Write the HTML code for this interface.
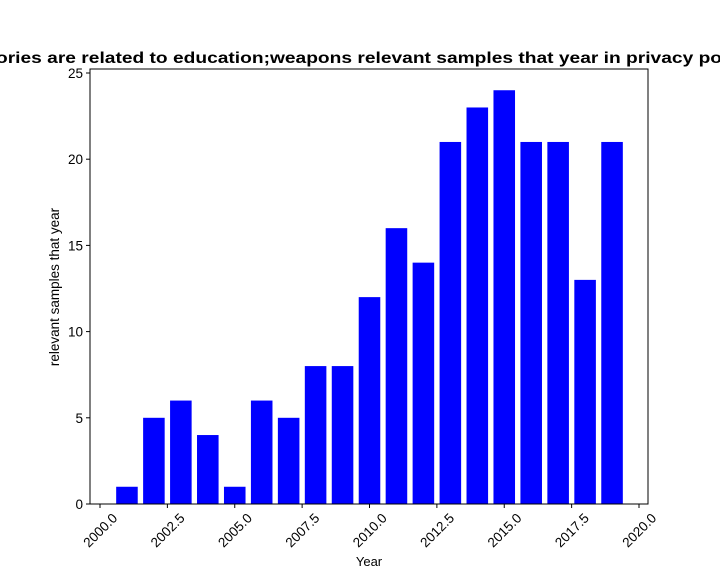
<!DOCTYPE html>
<html><head><meta charset="utf-8"><style>
body{margin:0;background:#fff;}
svg{display:block;font-family:"Liberation Sans",sans-serif;}
</style></head><body>
<svg id="chart" width="720" height="576">
<text x="-4" y="63" font-size="16" font-weight="bold" textLength="726" lengthAdjust="spacingAndGlyphs">ories are related to education;weapons relevant samples that year in privacy po</text>
<g id="bars"></g>
<rect x="90" y="69" width="558" height="435" fill="none" stroke="#000" stroke-width="1"/>
<g id="xt"></g><g id="yt"></g>
<text x="369" y="566" font-size="13" text-anchor="middle">Year</text>
<text transform="translate(59,287) rotate(-90)" font-size="13.5" text-anchor="middle">relevant samples that year</text>
</svg>
<script>
const years=[2001,2002,2003,2004,2005,2006,2007,2008,2009,2010,2011,2012,2013,2014,2015,2016,2017,2018,2019];
const counts=[1,5,6,4,1,6,5,8,8,12,16,14,21,23,24,21,21,13,21];
const xTicks=[2000,2002.5,2005,2007.5,2010,2012.5,2015,2017.5,2020];
const yTicks=[0,5,10,15,20,25];
const NS="http://www.w3.org/2000/svg";
const xs=v=>100+(v-2000)*26.95;
const ys=v=>504-v*17.24;
function mk(t,a,p){const e=document.createElementNS(NS,t);for(const k in a)e.setAttribute(k,a[k]);p.appendChild(e);return e;}
const B=document.getElementById('bars');
years.forEach((y,i)=>{
 const r=mk('rect',{x:xs(y-0.4),y:ys(counts[i]),width:xs(y+0.4)-xs(y-0.4),height:ys(0)-ys(counts[i]),fill:'#0000ff'},B);
 
 
});
const XT=document.getElementById('xt');
xTicks.forEach(t=>{
 const x=xs(t);
 mk('line',{x1:x,x2:x,y1:504,y2:508,stroke:'#000'},XT);
 const tx=mk('text',{x:x,y:535,'font-size':13.5,'text-anchor':'middle',transform:`rotate(-45 ${x} 530)`},XT);
 tx.textContent=t.toFixed(1);
 
 
});
const YT=document.getElementById('yt');
yTicks.forEach(t=>{
 const y=ys(t);
 mk('line',{x1:86,x2:90,y1:y,y2:y,stroke:'#000'},YT);
 const tx=mk('text',{x:83,y:y+5,'font-size':13.5,'text-anchor':'end'},YT);
 tx.textContent=t;
 
 
});
</script>
</body></html>
